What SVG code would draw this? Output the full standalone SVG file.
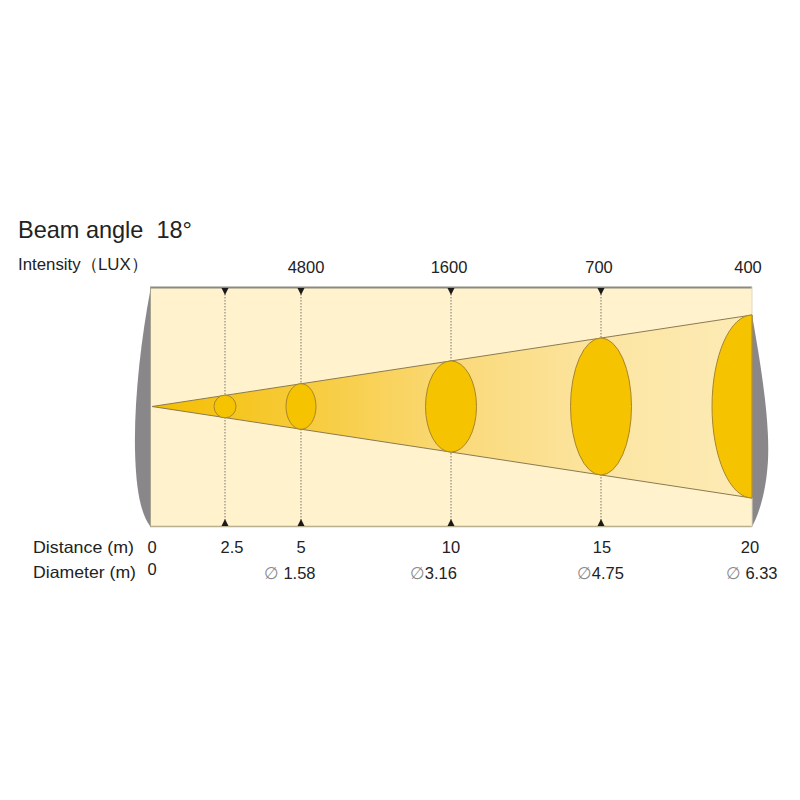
<svg xmlns="http://www.w3.org/2000/svg" width="800" height="800" viewBox="0 0 800 800">
<defs>
<linearGradient id="beamGrad" x1="152" y1="0" x2="752" y2="0" gradientUnits="userSpaceOnUse">
<stop offset="0" stop-color="#f4be00"/>
<stop offset="0.25" stop-color="#f7cb3a"/>
<stop offset="0.5" stop-color="#fad978"/>
<stop offset="0.75" stop-color="#fce5a2"/>
<stop offset="1" stop-color="#fdebb6"/>
</linearGradient>
</defs>
<style>
.txt{font-family:"Liberation Sans",Arial,sans-serif;fill:#222;}
.lbl{font-size:16.5px;}
.dot{stroke:#777;stroke-width:1;stroke-dasharray:1.5 1.5;}
.ell{fill:#f5c300;stroke:#a8862a;stroke-width:1;}
.tri{fill:#1a1a1a;}
.dia{fill:#8a8a8a;font-family:"DejaVu Sans",sans-serif;font-size:17px;}
</style>
<rect width="800" height="800" fill="#ffffff"/>
<g id="chart">
<path d="M150,292 C141,340 134,400 135,450 C136,495 142,515 150,526 Z" fill="#8a878a"/>
<path d="M752,315 C760,360 770,420 768,460 C766,495 758,515 752,527 Z" fill="#8a878a"/>
<rect x="150" y="287" width="602" height="240" fill="#fff2cc"/>
<line x1="150" y1="287.5" x2="752" y2="287.5" stroke="#8c8a80" stroke-width="2"/>
<line x1="150" y1="526.5" x2="752" y2="526.5" stroke="#b8b090" stroke-width="1.5"/>
<line x1="150.5" y1="287" x2="150.5" y2="527" stroke="#a8a290" stroke-width="1"/>
<line x1="752" y1="287" x2="752" y2="527" stroke="#e0d8c0" stroke-width="1"/>
</g>
<g id="beam">
<path d="M152,406.5 L752,315 L752,498 Z" fill="url(#beamGrad)" stroke="#8a7a50" stroke-width="1"/>
</g>
<g id="connectors">
<line class="dot" x1="225" y1="288" x2="225" y2="526"/>
<line class="dot" x1="301" y1="288" x2="301" y2="526"/>
<line class="dot" x1="451" y1="288" x2="451" y2="526"/>
<line class="dot" x1="601" y1="288" x2="601" y2="526"/>
<path class="tri" d="M221.5,288 L228.5,288 L225,295 Z"/>
<path class="tri" d="M297.5,288 L304.5,288 L301,295 Z"/>
<path class="tri" d="M447.5,288 L454.5,288 L451,295 Z"/>
<path class="tri" d="M597.5,288 L604.5,288 L601,295 Z"/>
<path class="tri" d="M221.5,526 L228.5,526 L225,519 Z"/>
<path class="tri" d="M297.5,526 L304.5,526 L301,519 Z"/>
<path class="tri" d="M447.5,526 L454.5,526 L451,519 Z"/>
<path class="tri" d="M597.5,526 L604.5,526 L601,519 Z"/>
</g>
<g id="spot-2-5"><ellipse class="ell" cx="225" cy="406.5" rx="11" ry="11.4"/></g>
<g id="spot-5"><ellipse class="ell" cx="301" cy="406.5" rx="15" ry="22.8"/></g>
<g id="spot-10"><ellipse class="ell" cx="451" cy="406.5" rx="25.5" ry="45.6"/></g>
<g id="spot-15"><ellipse class="ell" cx="601" cy="406.5" rx="30.5" ry="68.5"/></g>
<g id="spot-20"><path class="ell" d="M752,315 A40,91.5 0 0 0 752,498 Z"/></g>
<g id="labels">
<text class="txt" x="18" y="238" font-size="24" xml:space="preserve" textLength="174" lengthAdjust="spacingAndGlyphs">Beam angle  18°</text>
<text class="txt" x="18" y="270" font-size="16.5" textLength="130" lengthAdjust="spacingAndGlyphs">Intensity（LUX）</text>
<text class="txt lbl" x="306" y="273" text-anchor="middle">4800</text>
<text class="txt lbl" x="449" y="273" text-anchor="middle">1600</text>
<text class="txt lbl" x="599" y="273" text-anchor="middle">700</text>
<text class="txt lbl" x="748" y="273" text-anchor="middle">400</text>
<text class="txt lbl" x="33" y="553" textLength="101" lengthAdjust="spacingAndGlyphs">Distance (m)</text>
<text class="txt lbl" x="33" y="578" textLength="103" lengthAdjust="spacingAndGlyphs">Diameter (m)</text>
<text class="txt lbl" x="152" y="553" text-anchor="middle">0</text>
<text class="txt lbl" x="152" y="575" text-anchor="middle">0</text>
<text class="txt lbl" x="232" y="553" text-anchor="middle">2.5</text>
<text class="txt lbl" x="301" y="553" text-anchor="middle">5</text>
<text class="txt lbl" x="451" y="553" text-anchor="middle">10</text>
<text class="txt lbl" x="602" y="553" text-anchor="middle">15</text>
<text class="txt lbl" x="750" y="553" text-anchor="middle">20</text>
<text class="txt lbl" x="264" y="579" xml:space="preserve"><tspan class="dia">∅</tspan> 1.58</text>
<text class="txt lbl" x="410" y="579"><tspan class="dia">∅</tspan>3.16</text>
<text class="txt lbl" x="577" y="579"><tspan class="dia">∅</tspan>4.75</text>
<text class="txt lbl" x="726" y="579" xml:space="preserve"><tspan class="dia">∅</tspan> 6.33</text>
</g>
</svg>
